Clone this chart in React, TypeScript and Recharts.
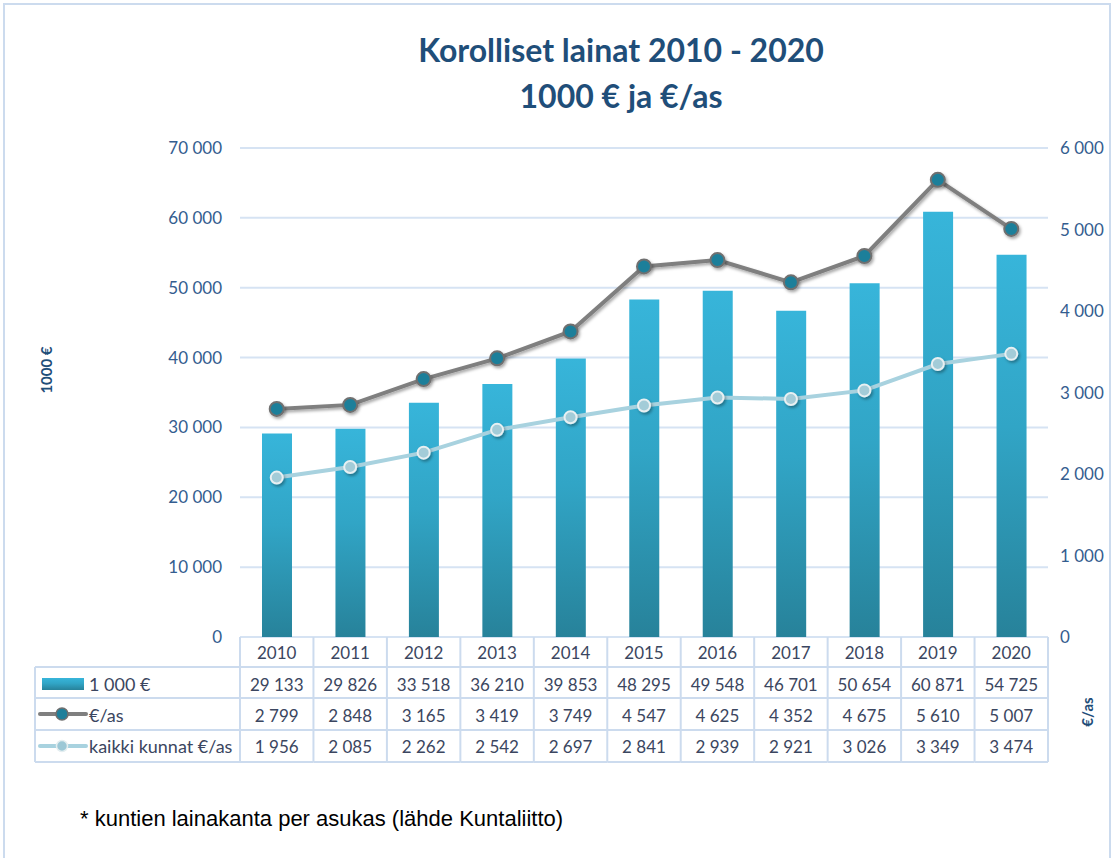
import React from 'react';
import { ComposedChart, Bar, Line, XAxis, YAxis, CartesianGrid } from 'recharts';

const years = ['2010', '2011', '2012', '2013', '2014', '2015', '2016', '2017', '2018', '2019', '2020'];
const loans = [29133, 29826, 33518, 36210, 39853, 48295, 49548, 46701, 50654, 60871, 54725];
const perCapita = [2799, 2848, 3165, 3419, 3749, 4547, 4625, 4352, 4675, 5610, 5007];
const allMunicipalities = [1956, 2085, 2262, 2542, 2697, 2841, 2939, 2921, 3026, 3349, 3474];
const leftTicks = [0, 10000, 20000, 30000, 40000, 50000, 60000, 70000];
const rightTicks = [0, 1000, 2000, 3000, 4000, 5000, 6000];
const seriesNames = ['1 000 €', '€/as', 'kaikki kunnat €/as'];

const data = years.map((y, i) => ({
  year: y,
  loans: loans[i],
  perCapita: perCapita[i],
  all: allMunicipalities[i],
}));

const fmt = (n: number) => String(n).replace(/\B(?=(\d{3})+(?!\d))/g, ' ');

const FONT = 'Lato, "Open Sans", sans-serif';
const TICK_COLOR = '#345D8F';
const TABLE_TEXT = '#3B4660';
const LINE_COLOR = '#CCDBEE';

const W = 1114;
const H = 858;
const PLOT_L = 240;
const PLOT_R = 1048;
const PLOT_T = 148;
const PLOT_B = 637;
const HALF_BAND = (PLOT_R - PLOT_L) / years.length / 2;
const ROW_LINES = [667, 698, 730, 762];
const ROW_TEXT = [652, 684, 715, 746];

const TableTick = (props: any) => {
  const { x, payload, index } = props;
  const i = payload?.index ?? index;
  const cx = x;
  const values = [years[i], fmt(loans[i]), fmt(perCapita[i]), fmt(allMunicipalities[i])];
  const right = cx + HALF_BAND;
  const left = cx - HALF_BAND;
  return (
    <g>
      {values.map((v, r) => (
        <text key={r} x={cx} y={ROW_TEXT[r]} textAnchor="middle" dominantBaseline="central"
          fontFamily={FONT} fontSize={17} fill={TABLE_TEXT}>{v}</text>
      ))}
      <line x1={right} x2={right} y1={PLOT_B} y2={ROW_LINES[3]} stroke={LINE_COLOR} strokeWidth={2} />
      {i === 0 && (
        <g>
          <line x1={left} x2={left} y1={PLOT_B} y2={ROW_LINES[3]} stroke={LINE_COLOR} strokeWidth={2} />
          <line x1={35} x2={35} y1={ROW_LINES[0]} y2={ROW_LINES[3]} stroke={LINE_COLOR} strokeWidth={2} />
          {ROW_LINES.map((ly, k) => (
            <line key={k} x1={35} x2={left} y1={ly} y2={ly} stroke={LINE_COLOR} strokeWidth={2} />
          ))}
          <rect x={42} y={678} width={42} height={12} fill="url(#barGrad)" />
          <line x1={40} x2={86} y1={714} y2={714} stroke="#7F7F7F" strokeWidth={4} strokeLinecap="round" />
          <circle cx={62} cy={714} r={6} fill="#1F7F9A" stroke="#6F6F6F" strokeWidth={1.5} />
          <line x1={40} x2={86} y1={746} y2={746} stroke="#A8D2DF" strokeWidth={4} strokeLinecap="round" />
          <circle cx={62} cy={746} r={5.5} fill="#9CC8D6" stroke="#E4EEF0" strokeWidth={1.5} />
          {seriesNames.map((n, k) => (
            <text key={k} x={89} y={ROW_TEXT[k + 1]} dominantBaseline="central" fontFamily={FONT}
              fontSize={18} fill={TABLE_TEXT}>{n}</text>
          ))}
        </g>
      )}
      {ROW_LINES.map((ly, k) => (
        <line key={k} x1={left} x2={right} y1={ly} y2={ly} stroke={LINE_COLOR} strokeWidth={2} />
      ))}
    </g>
  );
};

const PerCapitaDot = (props: any) => {
  const { cx, cy } = props;
  if (cx == null || cy == null) return null;
  return <circle cx={cx} cy={cy} r={7} fill="#1F7F9A" stroke="#6F6F6F" strokeWidth={2} filter="url(#shadow)" />;
};

const AllDot = (props: any) => {
  const { cx, cy } = props;
  if (cx == null || cy == null) return null;
  return <circle cx={cx} cy={cy} r={6} fill="#A3CCD8" stroke="#E8F0F2" strokeWidth={2} filter="url(#shadow)" />;
};

export default function App() {
  return (
    <div style={{ position: 'relative', width: W, height: H, background: '#fff', overflow: 'hidden' }}>
      <style>{'body{margin:0;}'}</style>
      <div style={{ position: 'absolute', left: 0, top: 0 }}>
        <ComposedChart
          width={W}
          height={H}
          data={data}
          margin={{ top: PLOT_T, right: 6, bottom: H - PLOT_B - 130, left: PLOT_L - 80 }}
          barSize={30}
        >
          <defs>
            <linearGradient id="barGrad" x1="0" y1="0" x2="0" y2="1">
              <stop offset="0%" stopColor="#37B5DA" />
              <stop offset="45%" stopColor="#31A5C6" />
              <stop offset="100%" stopColor="#27829A" />
            </linearGradient>
            <filter id="shadow" x="-50%" y="-50%" width="200%" height="200%">
              <feDropShadow dx="1.5" dy="2" stdDeviation="1.5" floodColor="#000" floodOpacity="0.35" />
            </filter>
          </defs>
          <CartesianGrid vertical={false} stroke="#D6E3F3" strokeWidth={2} yAxisId="left" />
          <XAxis
            dataKey="year"
            height={130}
            axisLine={false}
            tickLine={false}
            tickSize={0}
            tickMargin={0}
            interval={0}
            tick={<TableTick />}
          />
          <YAxis
            yAxisId="left"
            width={80}
            domain={[0, 70000]}
            ticks={leftTicks}
            tickFormatter={fmt}
            axisLine={false}
            tickLine={false}
            tickSize={0}
            tickMargin={18}
            tick={{ fill: TICK_COLOR, fontSize: 17, fontFamily: FONT }}
          />
          <YAxis
            yAxisId="right"
            orientation="right"
            width={60}
            domain={[0, 6000]}
            ticks={rightTicks}
            tickFormatter={fmt}
            axisLine={false}
            tickLine={false}
            tickSize={0}
            tickMargin={12}
            tick={{ fill: TICK_COLOR, fontSize: 17, fontFamily: FONT, textAnchor: 'start' }}
          />
          <Bar yAxisId="left" dataKey="loans" fill="url(#barGrad)" isAnimationActive={false} />
          <Line
            yAxisId="right"
            dataKey="perCapita"
            stroke="#7F7F7F"
            strokeWidth={4}
            dot={<PerCapitaDot />}
            activeDot={false}
            filter="url(#shadow)"
            isAnimationActive={false}
          />
          <Line
            yAxisId="right"
            dataKey="all"
            stroke="#A8D2DF"
            strokeWidth={4}
            dot={<AllDot />}
            activeDot={false}
            isAnimationActive={false}
          />
        </ComposedChart>
      </div>
      <svg width={W} height={H} style={{ position: 'absolute', left: 0, top: 0, pointerEvents: 'none' }}>
        <rect x={4} y={4} width={1106} height={900} fill="none" stroke="#CCDBEE" strokeWidth={2} />
        <text x={621} y={62} textAnchor="middle" fontFamily={FONT} fontWeight={700} fontSize={32} fill="#1F4E79">
          Korolliset lainat 2010 - 2020
        </text>
        <text x={621} y={108} textAnchor="middle" fontFamily={FONT} fontWeight={700} fontSize={32} fill="#1F4E79">
          1000 € ja €/as
        </text>
        <text x={52} y={370} textAnchor="middle" transform="rotate(-90 52 370)" fontFamily={FONT}
          fontWeight={700} fontSize={15} fill="#1F4E79">1000 €</text>
        <text x={1093} y={712} textAnchor="middle" transform="rotate(-90 1093 712)" fontFamily={FONT}
          fontWeight={700} fontSize={15} fill="#1F4E79">€/as</text>
        <text x={80} y={826} fontFamily='"Liberation Sans", Arial, sans-serif' fontSize={22} fill="#000">
          * kuntien lainakanta per asukas (lähde Kuntaliitto)
        </text>
      </svg>
    </div>
  );
}
